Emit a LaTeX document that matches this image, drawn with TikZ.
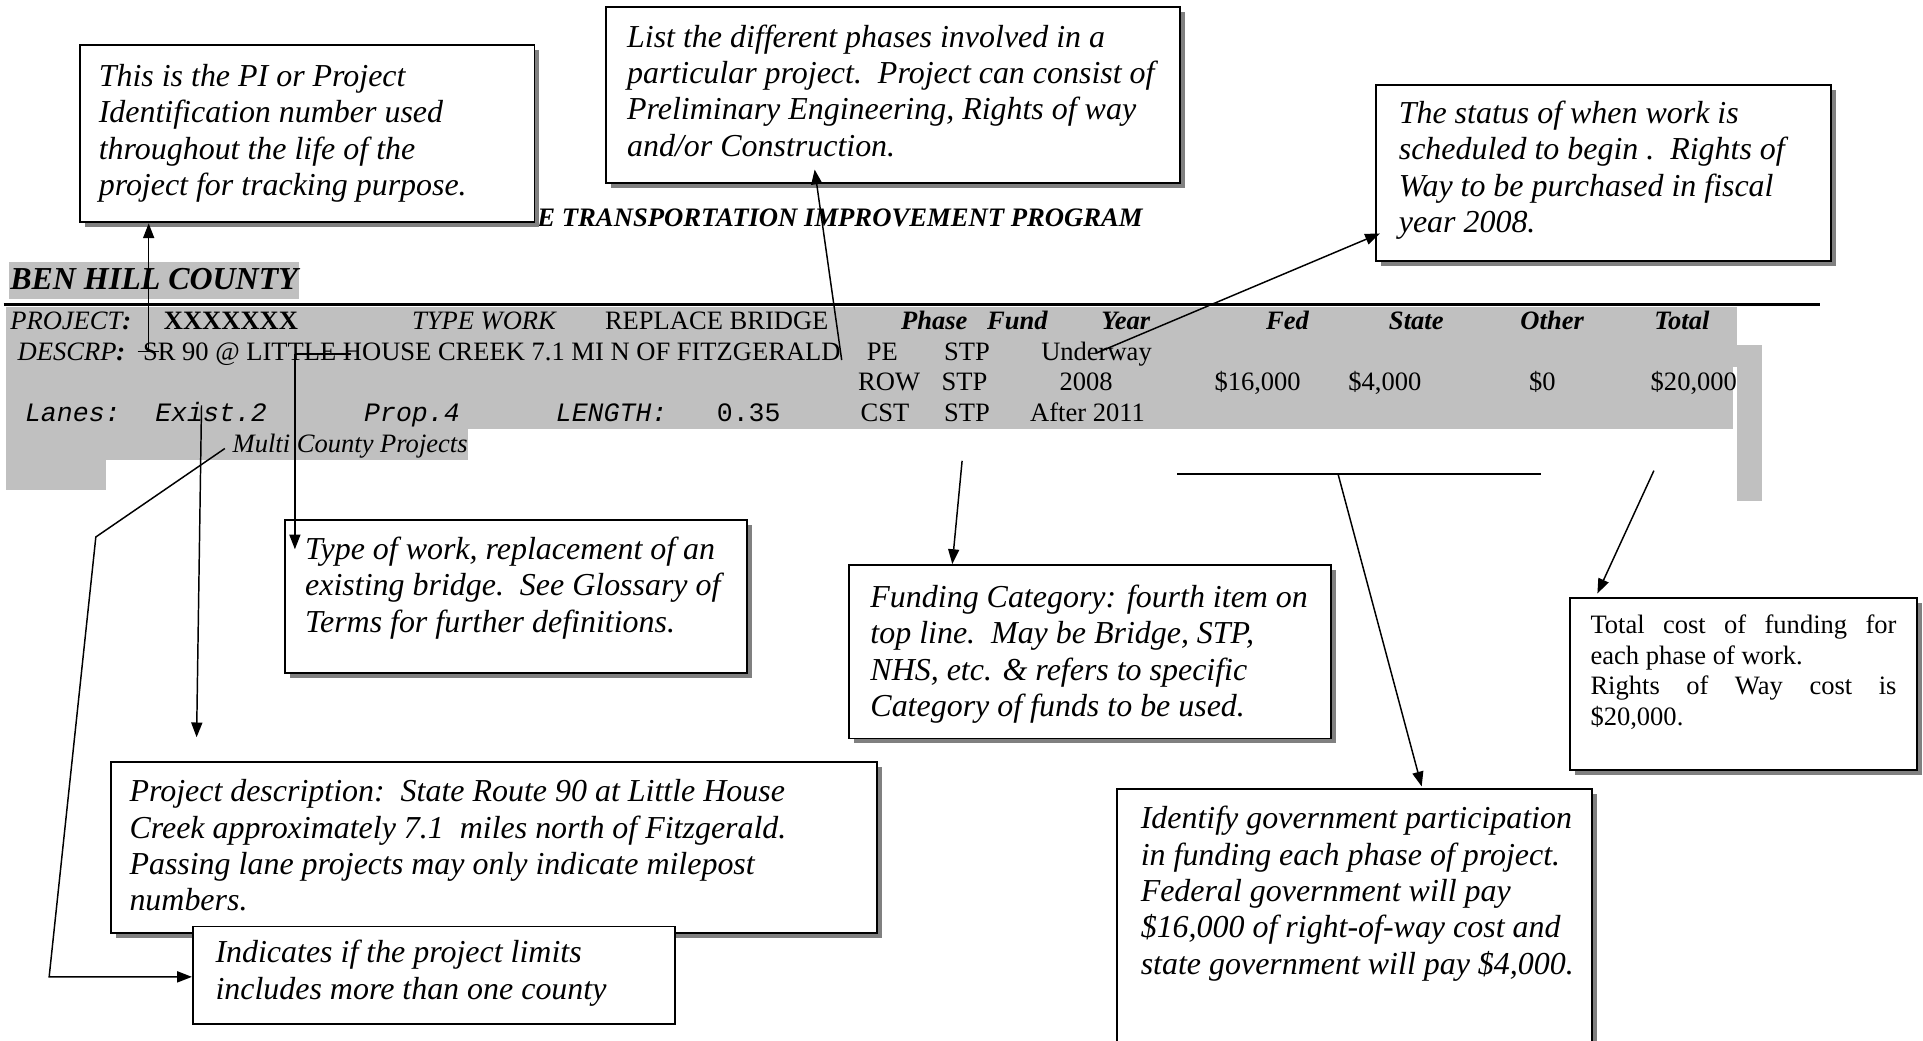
\documentclass[tikz,border=0pt]{standalone}
\usepackage{fontspec}
\setmainfont{Liberation Serif}
\setmonofont{Liberation Mono}
\usetikzlibrary{arrows.meta,shadows,fit}
\definecolor{tablegray}{HTML}{C0C0C0}
\definecolor{shadowgray}{HTML}{808080}
\begin{document}
\begin{tikzpicture}[x=0.5pt,y=-0.5pt,
  box/.style={draw, line width=0.8pt, fill=white, inner sep=0pt},
  shbox/.style={box, drop shadow={shadow xshift=2pt, shadow yshift=-2pt, fill=shadowgray, opacity=1}},
  note/.style={anchor=north west, inner sep=0pt, align=left, font=\fontsize{13}{14.8}\selectfont\itshape},
  plainnote/.style={anchor=north west, inner sep=0pt, align=left, font=\fontsize{10.8}{12.5}\selectfont},
  tbl/.style={anchor=base west, inner sep=0pt, font=\fontsize{10.8}{12.5}\selectfont},
  tbli/.style={tbl, font=\fontsize{10.8}{12.5}\selectfont\itshape},
  tblb/.style={tbl, font=\fontsize{10.8}{12.5}\selectfont\bfseries},
  tblbi/.style={tbl, font=\fontsize{10.8}{12.5}\selectfont\bfseries\itshape},
  tblm/.style={tbl, font=\fontsize{10.8}{12.5}\selectfont\ttfamily},
  tblmi/.style={tbl, font=\fontsize{10.8}{12.5}\selectfont\ttfamily\itshape},
  conn/.style={line width=0.6pt},
  arr/.style={line width=0.6pt, -{Triangle[length=6pt,width=4.5pt]}}]
\useasboundingbox (0,0) rectangle (1565,846.4);

% ---------- gray table background ----------
\fill[tablegray] (7,213) rectangle (243,243);
\fill[tablegray] (5,250) rectangle (1414,349);
\fill[tablegray] (5,349) rectangle (381,374);
\fill[tablegray] (5,374) rectangle (86,399);
\fill[tablegray] (1414,281) rectangle (1434,408);
\fill[white] (1410,299) rectangle (1414,356);
\draw[line width=1.35pt] (3,248) -- (1481,248);

% ---------- header texts ----------
\node[anchor=base west, inner sep=0pt, font=\fontsize{10.85}{12}\selectfont\bfseries\itshape] (title) at (437,184.5) {E TRANSPORTATION IMPROVEMENT PROGRAM};
\node[anchor=base west, inner sep=0pt, font=\fontsize{13}{15}\selectfont\bfseries\itshape] (county) at (8,236) {BEN HILL COUNTY};

% row 1
\node[tbli] (r1a) at (8,268) {PROJECT\textbf{:}};
\node[tblb] (r1b) at (133,268) {XXXXXXX};
\node[tbli] (r1c) at (335,268) {TYPE WORK};
\node[tbl]  (r1d) at (492,268) {REPLACE BRIDGE};
\node[tblbi] (r1e) at (733,268) {Phase};
\node[tblbi] (r1f) at (803,268) {Fund};
\node[tblbi] (r1g) at (896,268) {Year};
\node[tblbi] (r1h) at (1030,268) {Fed};
\node[tblbi] (r1i) at (1130,268) {State};
\node[tblbi] (r1j) at (1237,268) {Other};
\node[tblbi] (r1k) at (1346,268) {Total};
% row 2
\node[tbli] (r2a) at (14,293) {DESCRP\textbf{:}};
\node[tbl]  (r2b) at (116,293) {SR 90 @ LITTLE HOUSE CREEK 7.1 MI N OF FITZGERALD};
\node[tbl]  (r2c) at (705,293) {PE};
\node[tbl]  (r2d) at (768,293) {STP};
\node[tbl]  (r2e) at (847,293) {Underway};
% row 3
\node[tbl] (r3a) at (698,318) {ROW};
\node[tbl] (r3b) at (766,318) {STP};
\node[tbl] (r3c) at (862,318) {2008};
\node[tbl] (r3d) at (988,318) {\$16,000};
\node[tbl] (r3e) at (1097,318) {\$4,000};
\node[tbl] (r3f) at (1244,318) {\$0};
\node[tbl] (r3g) at (1343,318) {\$20,000};
% row 4
\node[tblmi] (r4a) at (20,343) {Lanes:};
\node[tblmi] (r4b) at (126,343) {Exist.2};
\node[tblmi] (r4c) at (296,343) {Prop.4};
\node[tblmi] (r4d) at (452,343) {LENGTH:};
\node[tblm]  (r4e) at (583,343) {0.35};
\node[tbl] (r4f) at (700,343) {CST};
\node[tbl] (r4g) at (768,343) {STP};
\node[tbl] (r4h) at (838,343) {After 2011};
% row 5
\node[tbli] (r5a) at (189,368) {Multi County Projects};

% ---------- callout boxes ----------
\node[shbox, fit={(65,37) (435,181)}] (b1) {};
\node[note] (t1) at (80,49.3) {\strut This is the PI or Project\\Identification number used\\throughout the life of the\\project for tracking purpose.};

\node[shbox, fit={(493,5.5) (960,149)}] (b2) {};
\node[note] (t2) at (510,17.3) {\strut List the different phases involved in a\\particular project.\ \ Project can consist of\\Preliminary Engineering, Rights of way\\and/or Construction.};

\node[shbox, fit={(1120,69) (1490,212.5)}] (b3) {};
\node[note] (t3) at (1138,79.3) {\strut The status of when work is\\scheduled to begin .\ \ Rights of\\Way to be purchased in fiscal\\year 2008.};

\node[shbox, fit={(232,423) (608,548)}] (b4) {};
\node[note] (t4) at (248,434.3) {\strut Type of work, replacement of an\\existing bridge.\ \ See Glossary of\\Terms for further definitions.};

\node[shbox, fit={(691,460) (1083,601)}] (b7) {};
\node[note] (t7) at (708,473.3) {\strut Funding Category: fourth item on\\top line.\ \ May be Bridge, STP,\\NHS, etc. \& refers to specific\\Category of funds to be used.};

\node[shbox, fit={(1278,487) (1560,627)}] (b9) {};
\node[plainnote] (t9) at (1294,497.5) {\strut\makebox[124.5pt][s]{Total cost of funding for}\\each phase of work.\\\makebox[124.5pt][s]{Rights of Way cost is}\\\$20,000.};

\node[shbox, fit={(90,620) (714,759)}] (b5) {};
\node[note] (t5) at (105,631.3) {\strut Project description:\ \ State Route 90 at Little House\\Creek approximately 7.1\ \ miles north of Fitzgerald.\\Passing lane projects may only indicate milepost\\numbers.};

\node[box, fit={(157,754) (549,833)}] (b6) {};
\node[note] (t6) at (175,762.3) {\strut Indicates if the project limits\\includes more than one county};

\node[shbox, fit={(909,642) (1296,880)}] (b8) {};
\node[note] (t8) at (928,653.3) {\strut Identify government participation\\in funding each phase of project.\\Federal government will pay\\\$16,000 of right-of-way cost and\\state government will pay \$4,000.};

% ---------- connectors ----------
\coordinate (c1l) at (112,286);
\coordinate (c1r) at (129,286);
\coordinate (c1b) at (121,286);
\draw[conn] (c1l) -- (c1r);
\draw[arr] (c1b) -- (c1b |- b1.south);

\coordinate (c2b) at (685,293);
\coordinate (c2t) at (663,138);
\draw[arr] (c2b) -- (c2t);

\coordinate (c3b) at (893,287);
\coordinate (c3t) at (1123,190);
\draw[arr] (c3b) -- (c3t);

\coordinate (c4l) at (240,288);
\coordinate (c4r) at (286,288);
\coordinate (c4t) at (240,447);
\draw[conn] (c4l) -- (c4r);
\draw[arr] (c4l) -- (c4t);

\coordinate (c5b) at (164,330);
\coordinate (c5t) at (160,600);
\draw[arr] (c5b) -- (c5t);

\coordinate (c6a) at (183,365);
\coordinate (c6b) at (78,437);
\coordinate (c6c) at (40,795);
\draw[arr] (c6a) -- (c6b) -- (c6c) -- (c6c -| b6.west);

\coordinate (c7b) at (783,375);
\coordinate (c7t) at (775,459);
\draw[arr] (c7b) -- (c7t);

\coordinate (c8l) at (958,386);
\coordinate (c8r) at (1254,386);
\coordinate (c8b) at (1089,386);
\coordinate (c8t) at (1157,640);
\draw[line width=0.8pt] (c8l) -- (c8r);
\draw[arr] (c8b) -- (c8t);

\coordinate (c9b) at (1346,383);
\coordinate (c9t) at (1300,483);
\draw[arr] (c9b) -- (c9t);
\end{tikzpicture}
\end{document}
